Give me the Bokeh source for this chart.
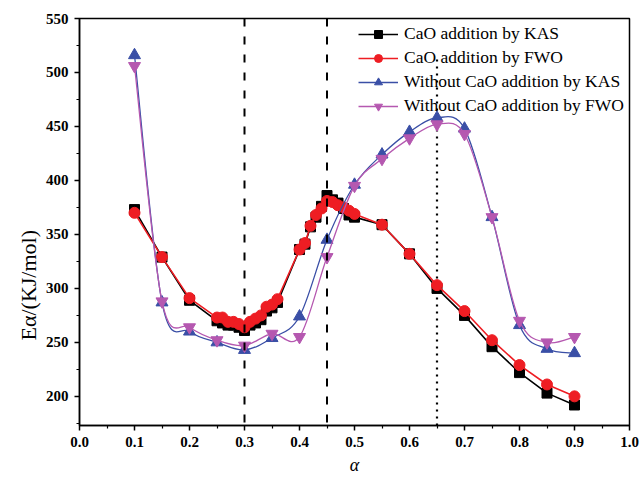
from bokeh.plotting import figure
from bokeh.models import Range1d, Span, Legend, LegendItem, Title, FixedTicker, PrintfTickFormatter
from bokeh.embed import file_html
from bokeh.resources import INLINE

# ---- data ----
alpha_cao = [0.1, 0.15, 0.2, 0.25, 0.26, 0.27, 0.28, 0.29, 0.3, 0.31, 0.32, 0.33, 0.34, 0.35, 0.36,
             0.4, 0.41, 0.42, 0.43, 0.44, 0.45, 0.46, 0.47, 0.48, 0.49, 0.5,
             0.55, 0.6, 0.65, 0.7, 0.75, 0.8, 0.85, 0.9]
kas_cao = [373, 329, 289, 270, 268, 266, 266, 264, 261, 266, 268, 271, 279, 282, 287,
           336, 341, 357, 366, 376, 386, 382, 379, 374, 368, 366,
           359, 332, 300, 275, 246, 222, 203, 192]
fwo_cao = [370, 329, 291, 273, 273, 269, 269, 267, 264, 269, 272, 275, 283, 285, 290,
           336, 342, 358, 368, 374, 381, 380, 377, 375, 372, 369,
           359, 332, 303, 279, 252, 229, 211, 200]

alpha_raw = [0.1, 0.15, 0.2, 0.25, 0.3, 0.35, 0.4, 0.45, 0.5, 0.55, 0.6, 0.65, 0.7, 0.75, 0.8, 0.85, 0.9]
kas_raw = [516, 287, 260, 250, 243, 254, 274, 345, 396, 424, 445, 458, 448, 366, 266, 244, 240]
fwo_raw = [506, 288, 264, 252, 247, 258, 255, 329, 395, 420, 439, 452, 443, 366, 270, 250, 255]

series_labels = ["CaO addition by KAS", "CaO addition by FWO",
                 "Without CaO addition by KAS", "Without CaO addition by FWO"]

x_ticks = [0.0, 0.1, 0.2, 0.3, 0.4, 0.5, 0.6, 0.7, 0.8, 0.9, 1.0]
x_minor = [0.05, 0.15, 0.25, 0.35, 0.45, 0.55, 0.65, 0.75, 0.85, 0.95]
y_ticks = [200, 250, 300, 350, 400, 450, 500, 550]
y_minor = [175, 225, 275, 325, 375, 425, 475, 525]

dashed_alpha = [0.3, 0.45]
dotted_alpha = [0.65]

Y_MIN, Y_MAX = 173, 550

# ---- figure ----
p = figure(width=640, height=479, x_range=Range1d(0, 1), y_range=Range1d(Y_MIN, Y_MAX),
           output_backend="svg", toolbar_location=None,
           min_border_left=79, min_border_right=11, min_border_top=18, min_border_bottom=54)
p.title.visible = False
p.xgrid.visible = False
p.ygrid.visible = False
p.background_fill_color = "white"
p.border_fill_color = "white"
p.outline_line_color = "black"
p.outline_line_width = 1.5
p.outline_line_alpha = 1.0

SERIF = "Liberation Serif"

p.xaxis.ticker = FixedTicker(ticks=x_ticks, minor_ticks=x_minor)
p.yaxis.ticker = FixedTicker(ticks=y_ticks, minor_ticks=y_minor)
p.xaxis.formatter = PrintfTickFormatter(format="%.1f")
p.yaxis.formatter = PrintfTickFormatter(format="%d")
for ax in (p.xaxis, p.yaxis):
    ax.axis_line_width = 1.5
    ax.axis_line_color = "black"
    ax.major_tick_line_width = 1.5
    ax.major_tick_line_color = "black"
    ax.minor_tick_line_width = 1.2
    ax.minor_tick_line_color = "black"
    ax.major_tick_out = 5
    ax.major_tick_in = 0
    ax.minor_tick_out = 3
    ax.minor_tick_in = 0
    ax.major_label_text_font = SERIF
    ax.major_label_text_font_style = "bold"
    ax.major_label_text_font_size = "15px"
    ax.major_label_text_color = "black"
    ax.major_label_standoff = 6

# reference lines
for a in dashed_alpha:
    p.add_layout(Span(location=a, dimension="height", line_color="black",
                      line_width=2, line_dash="8 10"))
p.segment(x0=dotted_alpha, y0=[Y_MIN] * len(dotted_alpha), x1=dotted_alpha,
          y1=[max(kas_raw)] * len(dotted_alpha), line_color="black", line_width=2.2, line_dash="2 5")


def smooth_curve(xs, ys, **kw):
    """Smooth curve through the data points, drawn with Bokeh's own bezier glyph
    (Catmull-Rom control points derived from the data)."""
    n = len(xs)
    x0, y0, x1, y1, cx0, cy0, cx1, cy1 = [], [], [], [], [], [], [], []
    for i in range(n - 1):
        im1 = max(i - 1, 0)
        ip2 = min(i + 2, n - 1)
        x0.append(xs[i]); y0.append(ys[i])
        x1.append(xs[i + 1]); y1.append(ys[i + 1])
        cx0.append(xs[i] + (xs[i + 1] - xs[im1]) / 6.0)
        cy0.append(ys[i] + (ys[i + 1] - ys[im1]) / 6.0)
        cx1.append(xs[i + 1] - (xs[ip2] - xs[i]) / 6.0)
        cy1.append(ys[i + 1] - (ys[ip2] - ys[i]) / 6.0)
    return p.bezier(x0=x0, y0=y0, x1=x1, y1=y1, cx0=cx0, cy0=cy0, cx1=cx1, cy1=cy1, **kw)


BLACK = "#000000"
RED = "#EE1D23"
BLUE = "#3A4FA6"
MAGENTA = "#B558B0"

l1 = p.line(alpha_cao, kas_cao, line_color=BLACK, line_width=1.6)
m1 = p.scatter(alpha_cao, kas_cao, marker="square", size=10, fill_color=BLACK, line_color=BLACK)
l2 = p.line(alpha_cao, fwo_cao, line_color=RED, line_width=1.6)
m2 = p.scatter(alpha_cao, fwo_cao, marker="circle", size=11, fill_color=RED, line_color=RED)
l3 = smooth_curve(alpha_raw, kas_raw, line_color=BLUE, line_width=1.3)
m3 = p.scatter(alpha_raw, kas_raw, marker="triangle", size=12, fill_color=BLUE, line_color=BLUE)
l4 = smooth_curve(alpha_raw, fwo_raw, line_color=MAGENTA, line_width=1.3)
m4 = p.scatter(alpha_raw, fwo_raw, marker="inverted_triangle", size=12, fill_color=MAGENTA, line_color=MAGENTA)

# legend glyph proxies (line + marker) so the legend shows a straight line sample
g3 = p.line([None], [None], line_color=BLUE, line_width=1.3)
g4 = p.line([None], [None], line_color=MAGENTA, line_width=1.3)

legend = Legend(items=[
    LegendItem(label=series_labels[0], renderers=[l1, m1]),
    LegendItem(label=series_labels[1], renderers=[l2, m2]),
    LegendItem(label=series_labels[2], renderers=[g3, m3]),
    LegendItem(label=series_labels[3], renderers=[g4, m4]),
], location="top_right")
legend.label_text_font = SERIF
legend.label_text_font_size = "17.5px"
legend.label_text_color = "black"
legend.glyph_width = 40
legend.glyph_height = 20
legend.label_height = 20
legend.label_standoff = 6
legend.spacing = 3
legend.padding = 5
legend.margin = 0
legend.border_line_alpha = 0
legend.background_fill_alpha = 0
p.add_layout(legend)

# axis titles
ytitle = Title(text="E\u03b1/(KJ/mol)", align="left", offset=85,
               text_font=SERIF, text_font_style="normal", text_font_size="22px",
               text_color="black", standoff=4)
p.add_layout(ytitle, "left")
xtitle = Title(text="\u03b1", align="center", text_font=SERIF, text_font_style="italic",
               text_font_size="18px", text_color="black", standoff=6)
p.add_layout(xtitle, "below")

open("out.html", "w").write(file_html(p, INLINE))
